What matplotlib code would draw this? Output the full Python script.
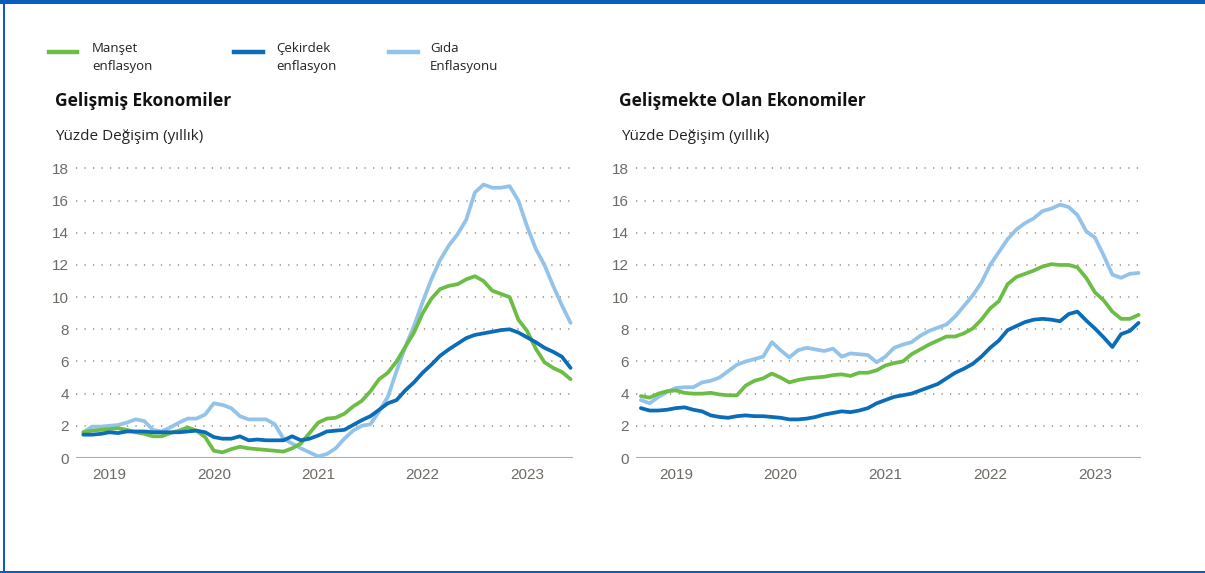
import numpy as np
import pandas as pd
import matplotlib
matplotlib.use("Agg")
import matplotlib.pyplot as plt
from matplotlib.patches import Rectangle
from matplotlib.lines import Line2D

# monthly data, advanced economies: Apr 2019 - Dec 2023
dates_ae = pd.date_range("2019-04-01", "2023-12-01", freq="MS")
headline_ae = [1.6, 1.7, 1.75, 1.8, 1.85, 1.75, 1.6, 1.5, 1.35, 1.35,
               1.55, 1.7, 1.9, 1.7, 1.3, 0.45, 0.35, 0.55, 0.7, 0.6,
               0.55, 0.5, 0.45, 0.4, 0.6, 0.9, 1.55, 2.2, 2.45, 2.5,
               2.75, 3.2, 3.55, 4.15, 4.9, 5.3, 6.0, 6.9, 7.8, 9.0,
               9.9, 10.5, 10.7, 10.8, 11.1, 11.3, 11.0, 10.4, 10.2, 10.0,
               8.6, 7.9, 6.8, 5.95, 5.6, 5.35, 4.9]
core_ae = [1.45, 1.45, 1.5, 1.6, 1.55, 1.65, 1.65, 1.65, 1.6, 1.6,
           1.6, 1.6, 1.65, 1.7, 1.6, 1.3, 1.2, 1.2, 1.35, 1.1,
           1.15, 1.1, 1.1, 1.1, 1.35, 1.1, 1.2, 1.4, 1.65, 1.7,
           1.75, 2.05, 2.35, 2.6, 3.0, 3.4, 3.6, 4.2, 4.7, 5.3,
           5.8, 6.35, 6.75, 7.1, 7.45, 7.65, 7.75, 7.85, 7.95, 8.0,
           7.8, 7.5, 7.2, 6.85, 6.6, 6.3, 5.6]
food_ae = [1.6, 1.95, 1.95, 2.0, 2.05, 2.2, 2.4, 2.3, 1.75, 1.65,
           1.9, 2.2, 2.45, 2.45, 2.7, 3.4, 3.3, 3.1, 2.6, 2.4,
           2.4, 2.4, 2.1, 1.2, 0.9, 0.6, 0.35, 0.1, 0.25, 0.6,
           1.2, 1.7, 2.0, 2.1, 2.9, 3.8, 5.4, 6.9, 8.2, 9.7,
           11.1, 12.3, 13.2, 13.9, 14.8, 16.5, 17.0, 16.8, 16.8, 16.9,
           16.0, 14.4, 13.0, 12.0, 10.7, 9.5, 8.4]

# emerging economies: Mar 2019 - Dec 2023
dates_em = pd.date_range("2019-03-01", "2023-12-01", freq="MS")
headline_em = [3.85, 3.75, 4.0, 4.15, 4.2, 4.05, 4.0, 4.0, 4.05, 3.95,
               3.9, 3.9, 4.5, 4.8, 4.95, 5.25, 5.0, 4.7, 4.85, 4.95,
               5.0, 5.05, 5.15, 5.2, 5.1, 5.3, 5.3, 5.45, 5.75, 5.9,
               6.0, 6.45, 6.75, 7.05, 7.3, 7.55, 7.55, 7.75, 8.05, 8.6,
               9.3, 9.75, 10.8, 11.25, 11.45, 11.65, 11.9, 12.05, 12.0, 12.0,
               11.85, 11.2, 10.3, 9.8, 9.1, 8.65, 8.65, 8.9]
core_em = [3.1, 2.95, 2.95, 3.0, 3.1, 3.15, 3.0, 2.9, 2.65, 2.55,
           2.5, 2.6, 2.65, 2.6, 2.6, 2.55, 2.5, 2.4, 2.4, 2.45,
           2.55, 2.7, 2.8, 2.9, 2.85, 2.95, 3.1, 3.4, 3.6, 3.8,
           3.9, 4.0, 4.2, 4.4, 4.6, 4.95, 5.3, 5.55, 5.85, 6.3,
           6.85, 7.3, 7.95, 8.2, 8.45, 8.6, 8.65, 8.6, 8.5, 8.95,
           9.1, 8.55, 8.05, 7.5, 6.9, 7.7, 7.9, 8.4]
food_em = [3.6, 3.4, 3.8, 4.1, 4.35, 4.4, 4.4, 4.7, 4.8, 5.0,
           5.4, 5.8, 6.0, 6.15, 6.3, 7.2, 6.7, 6.25, 6.7, 6.85,
           6.75, 6.65, 6.8, 6.3, 6.5, 6.45, 6.4, 5.95, 6.3, 6.85,
           7.05, 7.2, 7.6, 7.9, 8.1, 8.3, 8.8, 9.45, 10.1, 10.9,
           12.0, 12.8, 13.6, 14.2, 14.6, 14.9, 15.35, 15.5, 15.75, 15.6,
           15.1, 14.1, 13.7, 12.6, 11.4, 11.2, 11.45, 11.5]

years = [2019, 2020, 2021, 2022, 2023]
yticks = list(range(0, 19, 2))
series_names = ["Manşet\nenflasyon", "Çekirdek\nenflasyon", "Gıda\nEnflasyonu"]
titles = ["Gelişmiş Ekonomiler", "Gelişmekte Olan Ekonomiler"]
ylabel = "Yüzde Değişim (yıllık)"

GREEN = "#6cbd45"
BLUE = "#0b6cb8"
LIGHT = "#93c2ea"
colors = [GREEN, BLUE, LIGHT]
FRAME = "#0a5dba"
TICK = "#6e6a66"
GRID = "#a59c94"

W, H = 1205, 573
fig = plt.figure(figsize=(W / 100, H / 100), dpi=100)
fig.patch.set_facecolor("white")


def rect(x0, ytop, w, h):
    return [x0 / W, (H - ytop - h) / H, w / W, h / H]


def frac_year(d):
    return d.year + (d.month - 1) / 12


text_font = ["Open Sans", "DejaVu Sans"]
tick_font = ["Liberation Sans Narrow", "Liberation Sans", "DejaVu Sans"]

panels = [
    (rect(76, 162, 497, 296), dates_ae, [headline_ae, core_ae, food_ae], (2019.18, 2023.94), 55),
    (rect(636, 162, 505, 296), dates_em, [headline_em, core_em, food_em], (2019.12, 2023.94), 619),
]

for k, (pos, dates, vals, xlim, tx) in enumerate(panels):
    ax = fig.add_axes(pos)
    x = frac_year(dates)
    for yv in yticks[1:]:
        ax.axhline(yv, color=GRID, lw=1.3, ls=(0, (0.7, 4.0)), zorder=1)
    ax.axhline(0, color="#b1aaa4", lw=2.2, zorder=1)
    # food first, then headline, core on top
    for idx in [2, 0, 1]:
        ax.plot(x, vals[idx], color=colors[idx], lw=2.7, solid_capstyle="round",
                solid_joinstyle="round", zorder=3)
    ax.set_xlim(*xlim)
    ax.set_ylim(0, 18.4)
    ax.set_yticks(yticks)
    ax.set_yticklabels([str(v) for v in yticks], family=tick_font, fontsize=11, color=TICK)
    ax.set_xticks([y + 0.5 for y in years])
    ax.set_xticklabels([str(y) for y in years], family=tick_font, fontsize=11, color=TICK)
    ax.tick_params(axis="y", length=0, pad=5)
    ax.tick_params(axis="x", length=0, pad=7)
    for s in ax.spines.values():
        s.set_visible(False)
    ax.set_facecolor("none")

    fig.text(tx / W, 1 - 101 / H, titles[k], family=text_font, fontsize=12.5,
             fontweight="bold", va="center", ha="left", color="#111111")
    fig.text((tx + 2 * k) / W, 1 - 137 / H, ylabel, family=text_font, fontsize=11,
             va="center", ha="left", color="#222222")

# legend at the top
leg_x = [(49, 77, 92), (234, 263, 276), (389, 418, 430)]
for (x0, x1, xt), name, c in zip(leg_x, series_names, colors):
    fig.add_artist(Line2D([x0 / W, x1 / W], [1 - 52 / H, 1 - 52 / H], color=c, lw=3.2,
                          transform=fig.transFigure))
    fig.text(xt / W, 1 - 57.5 / H, name, family=text_font, fontsize=9.5, va="center",
             ha="left", color="#222222", linespacing=1.45)

# blue frame
fig.add_artist(Rectangle((0, 1 - 4 / H), 1, 4 / H, color=FRAME, transform=fig.transFigure, lw=0))
fig.add_artist(Rectangle((3 / W, 0), 2 / W, 1, color=FRAME, transform=fig.transFigure, lw=0))
fig.add_artist(Rectangle((0, 0), 1, 2 / H, color=FRAME, transform=fig.transFigure, lw=0))

fig.savefig("out.png", dpi=100)
